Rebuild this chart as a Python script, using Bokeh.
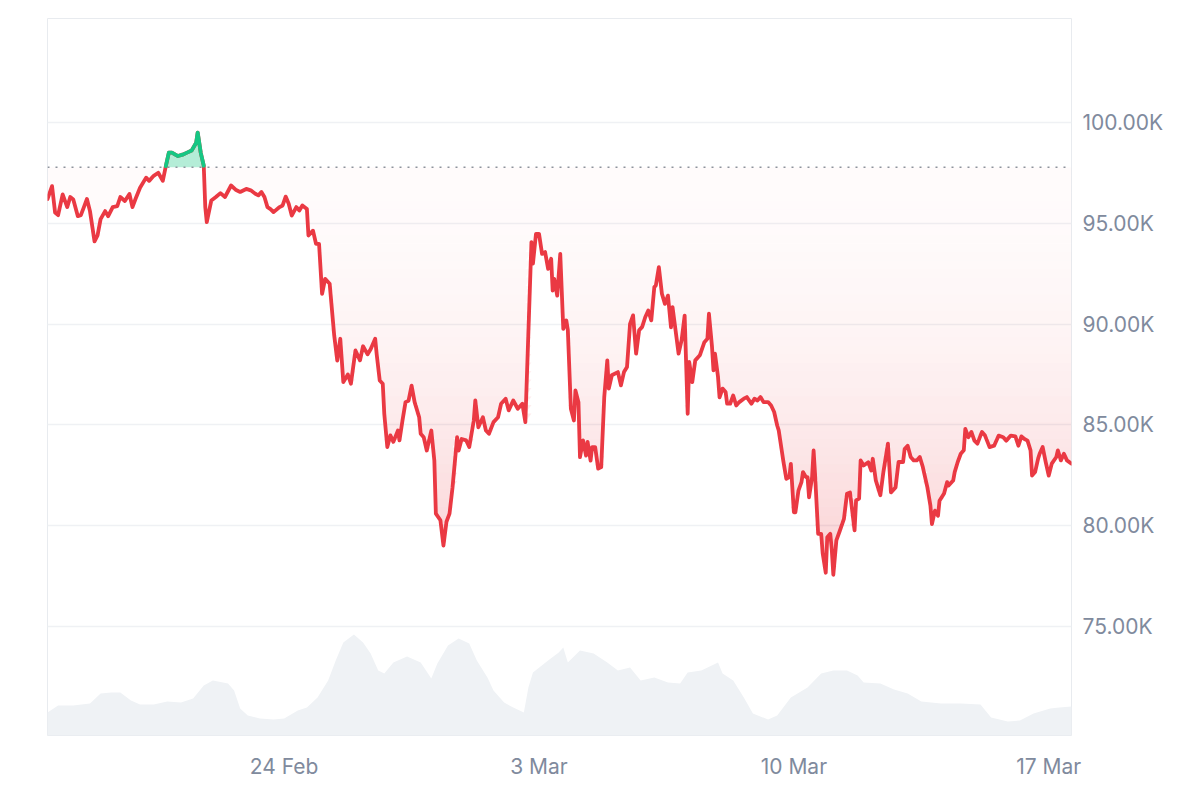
import numpy as np
import pandas as pd
from bokeh.plotting import figure
from bokeh.models import Range1d, FixedTicker, CustomJSTickFormatter
from bokeh.embed import file_html
from bokeh.resources import INLINE

# ---------------- data ----------------
start_time = "2025-02-17 12:00"
end_hour = 675

price_hours = [0, 3, 5, 7, 10, 13, 15, 17, 20, 22, 24, 26, 28, 31, 33, 35, 38, 40, 43, 46,
               48, 51, 54, 56, 58, 61, 65, 67, 70, 73, 76, 78, 80, 82, 86, 89, 92, 95, 98, 99,
               101, 103, 104, 105, 108, 111, 114, 117, 121, 124, 127, 131, 134, 137, 139, 141, 143, 145, 147, 149,
               153, 155, 157, 159, 161, 164, 166, 168, 171, 172, 175, 177, 179, 181, 183, 186, 189, 191, 193, 195,
               198, 200, 203, 206, 208, 211, 213, 216, 217, 219, 221, 222, 224, 226, 228, 231, 232, 234, 236, 238,
               240, 242, 245, 246, 248, 250, 253, 255, 256, 259, 261, 263, 265, 267, 270, 271, 273, 276, 278, 281,
               282, 284, 287, 289, 291, 294, 297, 299, 302, 304, 307, 310, 313, 315, 319, 320, 322, 324, 326, 328,
               330, 332, 333, 334, 336, 338, 340, 342, 343, 345, 347, 348, 350, 351, 353, 355, 356, 358, 359, 361,
               363, 365, 367, 369, 370, 372, 376, 378, 380, 382, 384, 386, 388, 390, 392, 394, 396, 398, 400, 401,
               403, 405, 407, 409, 411, 412, 414, 416, 418, 420, 422, 423, 425, 427, 430, 433, 435, 436, 438, 439,
               440, 442, 443, 445, 447, 448, 450, 452, 454, 456, 459, 461, 464, 466, 468, 470, 472, 475, 477, 479,
               481, 482, 484, 485, 487, 489, 490, 492, 493, 495, 497, 498, 500, 501, 502, 504, 505, 506, 508, 510,
               511, 513, 514, 516, 517, 518, 520, 522, 525, 527, 529, 532, 533, 535, 536, 538, 541, 543, 544, 546,
               549, 551, 554, 556, 559, 561, 564, 565, 567, 569, 571, 573, 575, 577, 580, 582, 583, 585, 587, 588,
               591, 593, 594, 597, 598, 600, 602, 604, 605, 607, 609, 611, 613, 615, 616, 618, 621, 624, 627, 630,
               632, 635, 638, 640, 642, 644, 646, 648, 649, 651, 653, 654, 656, 658, 660, 662, 665, 666, 668, 670,
               672, 675]

price_k = [96.20, 96.84, 95.53, 95.40, 96.43, 95.80, 96.30, 96.18, 95.35, 95.40, 95.80, 96.20, 95.60, 94.10, 94.40, 95.20, 95.60, 95.35, 95.80, 95.85,
           96.30, 96.10, 96.45, 95.80, 96.20, 96.76, 97.26, 97.10, 97.35, 97.50, 97.10, 97.83, 98.50, 98.50, 98.33, 98.40, 98.50, 98.60, 98.99, 99.49,
           98.50, 97.85, 95.80, 95.05, 96.13, 96.30, 96.49, 96.30, 96.87, 96.66, 96.55, 96.70, 96.63, 96.46, 96.38, 96.55, 96.30, 95.80, 95.70, 95.55,
           95.80, 95.88, 96.32, 95.96, 95.38, 95.80, 95.63, 95.88, 95.70, 94.39, 94.63, 93.98, 93.98, 91.50, 92.24, 92.00, 89.43, 88.19, 89.27, 87.12,
           87.50, 87.04, 88.69, 88.20, 88.90, 88.50, 88.75, 89.27, 88.50, 87.20, 87.04, 85.55, 83.90, 84.48, 84.16, 84.72, 84.23, 85.22, 86.13, 86.20,
           86.95, 86.13, 85.38, 84.56, 84.39, 83.73, 84.72, 83.23, 80.60, 80.27, 79.02, 80.20, 80.60, 81.91, 84.39, 83.73, 84.30, 84.23, 83.90, 85.22,
           86.21, 84.88, 85.38, 84.72, 84.56, 85.14, 85.38, 86.05, 86.30, 85.72, 86.21, 85.80, 86.05, 85.14, 94.06, 93.00, 94.47, 94.47, 93.48, 93.57,
           92.74, 93.24, 91.66, 92.24, 91.41, 93.48, 89.76, 90.18, 89.70, 85.80, 85.22, 86.71, 86.13, 83.40, 84.23, 83.48, 84.16, 83.23, 83.90, 83.90,
           82.83, 82.91, 86.38, 88.20, 86.80, 87.46, 87.62, 86.96, 87.62, 87.87, 90.01, 90.43, 88.53, 89.69, 89.86, 90.34, 90.67, 90.18, 91.83, 91.91,
           92.82, 91.50, 91.00, 91.41, 89.84, 90.84, 89.69, 88.53, 89.20, 90.42, 85.55, 88.12, 87.12, 88.20, 88.45, 89.10, 89.27, 90.51, 88.90, 87.70,
           88.53, 87.37, 86.37, 86.80, 86.63, 86.05, 86.05, 86.46, 85.96, 86.13, 86.30, 86.38, 86.05, 86.30, 86.21, 86.38, 86.13, 86.13, 85.96, 85.64,
           84.97, 84.73, 83.73, 83.23, 82.33, 82.41, 83.07, 80.67, 80.67, 81.74, 82.16, 82.66, 82.41, 82.41, 81.41, 82.41, 83.73, 82.50, 79.60, 79.60,
           78.62, 77.67, 79.43, 79.60, 78.79, 77.57, 79.27, 79.69, 80.34, 81.59, 81.65, 79.77, 81.26, 81.35, 83.24, 82.99, 83.15, 82.74, 83.32, 82.25,
           81.51, 82.66, 84.07, 81.65, 81.90, 83.16, 83.16, 83.80, 83.97, 83.41, 83.24, 83.24, 83.41, 82.91, 81.90, 81.00, 80.08, 80.75, 80.49, 81.24,
           81.60, 82.16, 82.00, 82.24, 82.66, 83.16, 83.57, 83.74, 84.80, 84.39, 84.65, 84.22, 84.07, 84.47, 84.65, 84.47, 83.90, 83.97, 84.47, 84.39,
           84.22, 84.47, 84.43, 83.97, 84.43, 84.30, 84.22, 83.74, 82.49, 82.66, 83.33, 83.57, 83.90, 83.16, 82.49, 83.08, 83.41, 83.74, 83.24, 83.57,
           83.24, 83.08]

vol_hours = [0, 7, 17, 28, 35, 42, 48, 55, 61, 70, 79, 88, 96, 103, 109, 119, 123, 127, 132, 140,
             149, 156, 165, 171, 178, 185, 190, 195, 202, 208, 213, 218, 222, 228, 237, 246, 253, 257, 264, 271,
             278, 283, 290, 294, 301, 307, 314, 317, 320, 330, 337, 340, 343, 351, 360, 369, 376, 384, 391, 400,
             409, 417, 422, 431, 442, 445, 452, 459, 465, 475, 481, 490, 501, 510, 518, 527, 534, 538, 549, 558,
             567, 576, 589, 602, 615, 622, 633, 641, 650, 661, 667, 675]

vol_bn = [11.5, 15.0, 15.0, 16.0, 21.0, 21.5, 21.5, 17.5, 15.5, 15.5, 17.0, 16.5, 18.5, 25.0, 27.5, 26.0, 22.5, 13.5, 10.0, 8.5,
          8.0, 8.5, 12.5, 14.0, 19.0, 27.5, 37.5, 46.5, 50.5, 46.5, 41.0, 32.5, 31.0, 36.5, 39.5, 36.5, 28.5, 36.0, 45.0, 48.5,
          46.0, 37.5, 29.0, 22.5, 16.5, 14.0, 11.5, 24.0, 31.5, 37.5, 41.5, 44.0, 36.5, 42.5, 41.0, 36.5, 32.5, 34.0, 27.5, 29.0,
          26.5, 26.0, 31.5, 32.5, 36.5, 31.0, 27.5, 19.0, 11.0, 8.0, 10.0, 19.0, 24.0, 31.0, 32.5, 32.5, 30.0, 26.5, 26.0, 23.0,
          21.0, 17.0, 16.0, 16.0, 15.5, 9.0, 7.0, 7.5, 11.0, 13.5, 14.0, 14.5]

baseline_k = 97.78
x_tick_dates = ["2025-02-24", "2025-03-03", "2025-03-10", "2025-03-17"]
y_ticks_k = [75, 80, 85, 90, 95, 100]

# ---------------- styles ----------------
RED = "#ea3943"
GREEN = "#16c784"
GRID = "#eff1f4"
TEXT = "#808a9d"
VOL = "#eff2f5"
FONT = "Inter"

t0 = pd.Timestamp(start_time)
px = np.array([t0 + pd.Timedelta(hours=h) for h in price_hours])
py = np.array(price_k)
vx = np.array([t0 + pd.Timedelta(hours=h) for h in vol_hours])
vy = np.array(vol_bn)

p = figure(width=1192, height=792, x_axis_type="datetime", y_axis_location="right",
           output_backend="svg", toolbar_location=None,
           x_range=Range1d(t0, t0 + pd.Timedelta(hours=end_hour)),
           y_range=Range1d(69.6, 105.15),
           min_border_left=47, min_border_right=121, min_border_top=18, min_border_bottom=57)
p.extra_y_ranges = {"vol": Range1d(0, 358.5)}
p.background_fill_color = "white"
p.border_fill_color = "white"
p.outline_line_color = "#e8ebef"
p.outline_line_width = 1

# volume area
p.varea(x=vx, y1=0, y2=vy, y_range_name="vol", fill_color=VOL, fill_alpha=1.0)

# gradient fill under baseline
pmin = py.min()
nb = 48
levels = np.linspace(baseline_k, pmin, nb + 1)
for hi, lo in zip(levels[:-1], levels[1:]):
    mid = 0.5 * (hi + lo)
    t = (baseline_k - mid) / (baseline_k - pmin)
    a = 0.02 + 0.22 * t ** 2
    p.varea(x=px, y1=np.clip(py, lo, hi), y2=hi, fill_color=RED, fill_alpha=a)

# green fill above baseline
p.varea(x=px, y1=baseline_k, y2=np.maximum(py, baseline_k), fill_color=GREEN, fill_alpha=0.32)

# baseline dotted
p.line(x=[px[0], t0 + pd.Timedelta(hours=end_hour)], y=[baseline_k, baseline_k],
       line_color="#8d939c", line_width=1.5, line_dash="2 6")

# price line
p.line(x=px, y=py, line_color=RED, line_width=3.8, line_join="round", line_cap="round")
above = np.where(py >= baseline_k, py, np.nan)
p.line(x=px, y=above, line_color=GREEN, line_width=3.8, line_join="round", line_cap="round")

# axes
p.xaxis.ticker = FixedTicker(ticks=[pd.Timestamp(d).value / 1e6 for d in x_tick_dates])
p.xaxis.formatter = CustomJSTickFormatter(code="""
const m = ['Jan','Feb','Mar','Apr','May','Jun','Jul','Aug','Sep','Oct','Nov','Dec'];
const d = new Date(tick);
return d.getUTCDate() + ' ' + m[d.getUTCMonth()];
""")
p.yaxis.ticker = FixedTicker(ticks=y_ticks_k)
p.yaxis.formatter = CustomJSTickFormatter(code="return tick.toFixed(2) + 'K';")

for ax in (p.xaxis[0], p.yaxis[0]):
    ax.axis_line_color = None
    ax.major_tick_line_color = None
    ax.minor_tick_line_color = None
    ax.major_tick_out = 0
    ax.major_tick_in = 0
    ax.major_label_text_color = TEXT
    ax.major_label_text_font = FONT
    ax.major_label_text_font_size = "21px"
p.xaxis.major_label_standoff = 18
p.yaxis.major_label_standoff = 11

p.xgrid.grid_line_color = None
p.ygrid.ticker = FixedTicker(ticks=y_ticks_k)
p.ygrid.grid_line_color = GRID
p.ygrid.grid_line_width = 1.5

open("out.html", "w").write(file_html(p, INLINE))
